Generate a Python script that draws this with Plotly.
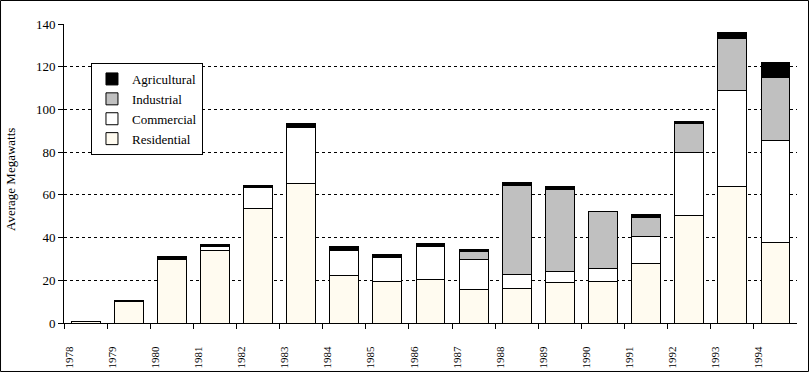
import plotly.graph_objects as go

years = [str(y) for y in range(1978, 1995)]
residential = [0.8, 9.9, 29.7, 34.1, 53.7, 65.5, 22.2, 19.4, 20.3, 15.6, 16.1, 18.9, 19.4, 27.8, 50.4, 64.0, 37.7]
commercial = [0, 0, 0.6, 1.9, 9.7, 26.0, 11.6, 11.1, 15.4, 14.1, 6.6, 5.2, 6.1, 12.7, 29.5, 44.7, 47.9]
industrial = [0, 0, 0, 0, 0, 0, 0, 0, 0, 3.6, 41.6, 38.3, 26.9, 8.8, 13.5, 24.6, 29.4]
agricultural = [0, 0.7, 1.0, 0.9, 1.2, 1.7, 2.2, 1.7, 1.7, 1.3, 1.7, 1.7, 0, 1.5, 1.1, 2.9, 6.8]

series = [
    ("Residential", residential, "#FFFBF0"),
    ("Commercial", commercial, "#FFFFFF"),
    ("Industrial", industrial, "#C0C0C0"),
    ("Agricultural", agricultural, "#000000"),
]

xpos = [i + 0.5 for i in range(len(years))]
font = "Liberation Serif, Times New Roman, serif"

fig = go.Figure()
for name, vals, col in series:
    fig.add_trace(go.Bar(
        x=xpos, y=vals, name=name, width=0.67,
        marker=dict(color=col, line=dict(color="#000000", width=1)),
    ))

fig.update_layout(
    width=809, height=372,
    barmode="stack",
    paper_bgcolor="white", plot_bgcolor="white",
    margin=dict(l=64, r=12, t=24, b=49, autoexpand=False),
    font=dict(family=font, size=13, color="#000000"),
    showlegend=True,
    legend=dict(
        x=0.0368, y=0.8696, xanchor="left", yanchor="top",
        bgcolor="white", bordercolor="black", borderwidth=1,
        traceorder="reversed", font=dict(family=font, size=13),
        itemwidth=30, tracegroupgap=0,
    ),
    xaxis=dict(
        range=[0, 17], tickmode="array",
        tickvals=list(range(len(years))), ticktext=years,
        tickangle=-90, ticks="outside", ticklen=5, tickcolor="black",
        showline=True, linecolor="black", linewidth=1,
        showgrid=False, zeroline=False, automargin=False,
        ticklabelshift=5, ticklabelstandoff=13,
        tickfont=dict(family=font, size=11),
    ),
    yaxis=dict(
        range=[0, 140], tickvals=[0, 20, 40, 60, 80, 100, 120, 140],
        ticks="outside", ticklen=5, tickcolor="black",
        showline=True, linecolor="black", linewidth=1,
        showgrid=True, gridcolor="black", gridwidth=1, griddash="3px,3px",
        zeroline=False, automargin=False,
        tickfont=dict(family=font, size=13),
    ),
    annotations=[dict(
        text="Average Megawatts", textangle=-90, showarrow=False,
        xref="paper", yref="paper", x=-0.0737, y=0.4816,
        xanchor="center", yanchor="middle",
        font=dict(family=font, size=13),
    )],
    shapes=[dict(
        type="rect", xref="paper", yref="paper",
        x0=-0.0866, x1=1.0157, y0=-0.1622, y1=1.0786,
        line=dict(color="black", width=1), fillcolor="rgba(0,0,0,0)",
    )],
)

fig.write_html(
    "out.html",
    config={"displayModeBar": False},
    post_script="document.body.style.margin='0';document.body.style.padding='0';",
)
